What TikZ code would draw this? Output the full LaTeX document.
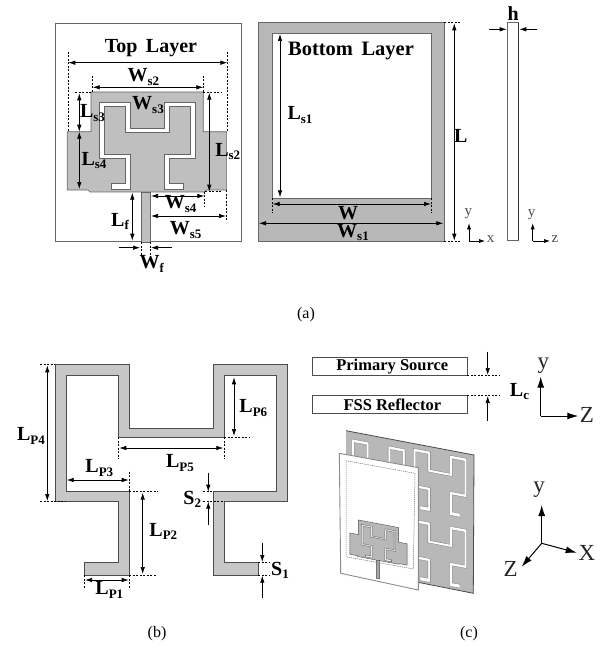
\documentclass[tikz,border=0pt]{standalone}
\usepackage{fontspec}
\setmainfont{Liberation Serif}
\usetikzlibrary{arrows.meta}
\tikzset{
  dimline/.style={line width=0.7pt,{Latex[length=7pt,width=4.5pt]}-{Latex[length=7pt,width=4.5pt]}},
  onearrow/.style={line width=0.7pt,-{Latex[length=7pt,width=4.5pt]}},
  guide/.style={line width=0.5pt,dash pattern=on 2pt off 1.5pt},
  metal/.style={fill=black!25,draw=black!60,line width=0.6pt},
  slotline/.style={fill=white,draw=black!60,line width=0.5pt},
  boldlab/.style={font=\fontsize{20}{20}\selectfont\bfseries,inner sep=0pt},
  caption/.style={font=\fontsize{16}{16}\selectfont,inner sep=0pt},
  thinaxis/.style={line width=0.6pt,-{Latex[length=6pt,width=4pt]}},
  bigaxis/.style={line width=1pt,-{Latex[length=11pt,width=7pt]}},
  axislab/.style={font=\fontsize{15}{15}\selectfont,inner sep=0pt,text=black!70},
  biglab/.style={font=\fontsize{23}{23}\selectfont,inner sep=0pt,text=black!85}
}
\newcommand{\dimlab}[2]{#1\raisebox{-0.35ex}{\fontsize{13}{13}\selectfont #2}}
\newcommand{\slotpath}{(0,0) -- (74.3,0) -- (74.3,63.6) -- (158.3,63.6) -- (158.3,0) -- (232.3,0) -- (232.3,137) -- (169,137) -- (169,197.3) -- (203.3,197.3) -- (203.3,210.3) -- (158.3,210.3) -- (158.3,127) -- (221.7,127) -- (221.7,10.6) -- (169,10.6) -- (169,72.6) -- (63.3,72.6) -- (63.3,10.6) -- (11,10.6) -- (11,127) -- (74.3,127) -- (74.3,210.3) -- (29.3,210.3) -- (29.3,197.3) -- (63.3,197.3) -- (63.3,137) -- (0,137) -- cycle}
\newcommand{\patchpath}{(-20.1,-25) -- (252.4,-25) -- (252.4,71.4) -- (309.2,71.4) -- (309.2,212.9) -- (259,212.9) -- (254.1,217.7) -- (-22.6,217.7) -- (-27.4,212.9) -- (-77.7,212.9) -- (-77.7,71.4) -- (-20.1,71.4) -- cycle}
\newcommand{\feedpath}{(101.9,217.7) -- (123.8,217.7) -- (123.8,339) -- (101.9,339) -- cycle}
\begin{document}
\begin{tikzpicture}[x=1pt,y=-1pt]
    \useasboundingbox (0,0) rectangle (605,647);
    % (a) top layer
    \draw[black!60,line width=0.6pt] (55.7,23.3) rectangle (241,241);
    \begin{scope}[shift={(99.3,102.3)},x=0.412pt,y=-0.412pt]
        \draw[metal] \feedpath;
        \draw[metal] \patchpath;
        \draw[slotline] \slotpath;
    \end{scope}
    \node[boldlab] (toplayer) at (151,47.7) {Top\, Layer};
    \draw[dimline] (68.3,62.7) -- (227.3,62.7);
    \draw[guide] (68.3,51.7) -- (68.3,131.7);
    \draw[guide] (227.3,51.7) -- (227.3,131.7);
    \node[boldlab] (ws2) at (143.3,77) {\dimlab{W}{s2}};
    \draw[dimline] (92.7,87.3) -- (203.3,87.3);
    \draw[guide] (92.7,76) -- (92.7,92);
    \draw[guide] (203.3,76) -- (203.3,92);
    \node[boldlab] (ws3) at (148,105) {\dimlab{W}{s3}};
    \draw[guide] (75,92) -- (91,92);
    \draw[dimline] (79.3,93.3) -- (79.3,131.7);
    \node[boldlab] (ls3) at (92.5,113) {\dimlab{L}{s3}};
    \draw[dimline] (79.3,131.7) -- (79.3,189);
    \node[boldlab] (ls4) at (94,160.7) {\dimlab{L}{s4}};
    \draw[dimline] (209.3,92.7) -- (209.3,191.7);
    \draw[guide] (203,92) -- (221,92);
    \draw[guide] (205,191.7) -- (221,191.7);
    \node[boldlab] (ls2) at (227.7,151.7) {\dimlab{L}{s2}};
    \draw[dimline] (132.3,192.7) -- (132.3,240.7);
    \node[boldlab] (lf) at (120,221.7) {\dimlab{L}{f}};
    \draw[dimline] (151,196) -- (204.3,196);
    \draw[guide] (204.3,191.7) -- (204.3,206.7);
    \node[boldlab] (ws4) at (180.7,204) {\dimlab{W}{s4}};
    \draw[dimline] (151,216) -- (226,216);
    \draw[guide] (226.7,190) -- (226.7,220.7);
    \node[boldlab] (ws5) at (185.7,230) {\dimlab{W}{s5}};
    \draw[onearrow] (119,247.7) -- (140,247.7);
    \draw[onearrow] (172.3,247.7) -- (151,247.7);
    \draw[guide] (141.3,242) -- (141.3,255);
    \draw[guide] (150.3,242) -- (150.3,255);
    \node[boldlab] (wf) at (151.7,264) {\dimlab{W}{f}};
    % (a) bottom layer
    \fill[black!28] (258.3,22.7) rectangle (444.3,241.7);
    \draw[black!60,line width=0.6pt] (258.3,22.7) rectangle (444.3,241.7);
    \draw[fill=white,draw=black!60,line width=0.6pt] (272,33.3) rectangle (431.7,198.3);
    \node[boldlab,font=\fontsize{20.5}{20.5}\selectfont\bfseries] (botlayer) at (351,51) {Bottom\, Layer};
    \draw[dimline] (280,34) -- (280,197.3);
    \node[boldlab] (ls1) at (300,115) {\dimlab{L}{s1}};
    \draw[dimline] (272.7,204) -- (431,204);
    \draw[guide] (272,198.3) -- (272,213.3);
    \draw[guide] (431.7,198.3) -- (431.7,213.3);
    \node[boldlab] (wlab) at (348,212.7) {W};
    \draw[dimline] (259,223.3) -- (443.3,223.3);
    \node[boldlab] (ws1) at (353,232.7) {\dimlab{W}{s1}};
    \draw[dimline] (454.3,23.3) -- (454.3,240.7);
    \draw[guide] (444.3,22.7) -- (460,22.7);
    \draw[guide] (444.3,241.7) -- (460,241.7);
    \node[boldlab] (llab) at (460.7,136) {L};
    \draw[thinaxis] (469,241) -- (469,223.3);
    \draw[thinaxis] (469,241) -- (485,241);
    \node[axislab] (y1) at (468.3,214) {y};
    \node[axislab] (x1) at (490.7,238.7) {x};
    % (a) side view
    \draw[black!60,line width=0.6pt] (507.7,22.7) rectangle (518.3,240);
    \draw[black!80,line width=1.2pt] (518.3,22.7) -- (518.3,240);
    \draw[onearrow] (489.3,29.3) -- (506.7,29.3);
    \draw[onearrow] (537.3,29.3) -- (519.3,29.3);
    \node[boldlab] (hlab) at (513.3,14) {h};
    \draw[thinaxis] (532.7,241) -- (532.7,223.3);
    \draw[thinaxis] (532.7,241) -- (550,241);
    \node[axislab] (y2) at (531.7,215) {y};
    \node[axislab] (z2) at (555,239) {z};
    \node[caption] (capa) at (306,315) {(a)};
    % (b) slot
    \begin{scope}[shift={(55,364.7)}]
        \draw[fill=black!22,draw=black!70,line width=1pt] \slotpath;
    \end{scope}
    \draw[dimline] (47.3,365.3) -- (47.3,501);
    \draw[guide] (40,364.7) -- (55,364.7);
    \draw[guide] (40,501.7) -- (66,501.7);
    \node[boldlab] (lp4) at (31,436) {\dimlab{L}{P4}};
    \draw[dimline] (234,377.3) -- (234,436);
    \draw[guide] (224,437) -- (250,437);
    \node[boldlab] (lp6) at (253.3,408) {\dimlab{L}{P6}};
    \draw[dimline] (119.3,448) -- (223.3,448);
    \draw[guide] (118.3,437.3) -- (118.3,459.3);
    \draw[guide] (224,437.3) -- (224,459.3);
    \node[boldlab] (lp5) at (180,463) {\dimlab{L}{P5}};
    \draw[dimline] (66.7,480) -- (128.7,480);
    \draw[guide] (129.3,471.7) -- (129.3,491.7);
    \node[boldlab] (lp3) at (99.3,468) {\dimlab{L}{P3}};
    \draw[dimline] (142.7,492.7) -- (142.7,574);
    \draw[guide] (129.3,491.7) -- (158,491.7);
    \draw[guide] (129.3,575) -- (156,575);
    \node[boldlab] (lp2) at (163.3,531.7) {\dimlab{L}{P2}};
    \draw[dimline] (85,580) -- (128.7,580);
    \draw[guide] (84.3,575) -- (84.3,588);
    \draw[guide] (129.3,575) -- (129.3,588);
    \node[boldlab] (lp1) at (109.3,590) {\dimlab{L}{P1}};
    \draw[onearrow] (208.3,472.7) -- (208.3,491.7);
    \draw[onearrow] (208.3,525) -- (208.3,501.7);
    \draw[guide] (203,491.7) -- (213.3,491.7);
    \draw[guide] (203,501.7) -- (224,501.7);
    \node[boldlab] (s2) at (192.3,499) {\dimlab{S}{2}};
    \draw[onearrow] (262.3,543.3) -- (262.3,562);
    \draw[onearrow] (262.3,597.7) -- (262.3,575.7);
    \draw[guide] (258.3,562) -- (270,562);
    \draw[guide] (258.3,575) -- (270,575);
    \node[boldlab] (s1) at (280,570) {\dimlab{S}{1}};
    \node[caption] (capb) at (157,634) {(b)};
    % (c) source and reflector
    \draw[black!70,line width=0.7pt] (312.7,357.3) rectangle (467.3,375);
    \draw[black!70,line width=0.7pt] (312.7,395.7) rectangle (467.3,413.3);
    \node[boldlab,font=\fontsize{16.5}{16.5}\selectfont\bfseries] (source) at (392.3,366.3) {Primary Source};
    \node[boldlab,font=\fontsize{16.5}{16.5}\selectfont\bfseries] (fss) at (392.3,404.7) {FSS Reflector};
    \draw[guide] (467.3,375) -- (500,375);
    \draw[guide] (467.3,395.7) -- (500,395.7);
    \draw[onearrow] (487.7,351.7) -- (487.7,375);
    \draw[onearrow] (487.7,420.7) -- (487.7,396);
    \node[boldlab] (lc) at (519.5,391.7) {\dimlab{L}{c}};
    \draw[bigaxis] (540.7,416) -- (540.7,376.7);
    \draw[bigaxis] (540.7,416) -- (578.3,416);
    \node[biglab] (y3) at (543.3,365.5) {y};
    \node[biglab] (z3) at (587,415) {Z};
    % (c) back panel
    \fill[black!28] (346,430.7) -- (474,455) -- (473.3,593.3) -- (346,568) -- cycle;
    \draw[black!70,line width=0.8pt] (346,430.7) -- (474,455) -- (473.3,593.3) -- (346,568);
    \foreach \cellx/\celly in {351.7/439,413.3/448.3,351.7/510,413.3/519.3} {
        \begin{scope}[shift={(\cellx,\celly)},x={(0.23pt,-0.0437pt)},y={(0pt,-0.285pt)}]
            \draw[fill=white,draw=black!55,line width=0.3pt] \slotpath;
        \end{scope}
    }
    % (c) front panel
    \draw[fill=white,draw=black!45,line width=0.9pt] (339.3,453.3) -- (418.3,467.7) -- (418.3,590) -- (340.7,573.3) -- cycle;
    \draw[black!55,line width=0.5pt,dash pattern=on 1.2pt off 0.8pt] (346,460.7) -- (415,473.3) -- (413.3,569) -- (346,556.7) -- cycle;
    \begin{scope}[shift={(361.3,524.3)},x={(0.148pt,-0.028pt)},y={(0pt,-0.151pt)}]
        \draw[fill=black!35,draw=black!70,line width=0.4pt] \feedpath;
        \draw[fill=black!28,draw=black!70,line width=0.4pt] \patchpath;
        \draw[fill=black!8,draw=black!70,line width=0.3pt] \slotpath;
    \end{scope}
    % (c) axes
    \draw[bigaxis] (541.7,543.3) -- (541.7,505);
    \draw[bigaxis] (541.7,543.3) -- (576.7,552.7);
    \draw[bigaxis] (541.7,543.3) -- (521.7,566.7);
    \node[biglab] (y4) at (539,489.5) {y};
    \node[biglab] (x4) at (587,553.3) {X};
    \node[biglab] (z4) at (510.7,569) {Z};
    \node[caption] (capc) at (469,634) {(c)};
\end{tikzpicture}
\end{document}
